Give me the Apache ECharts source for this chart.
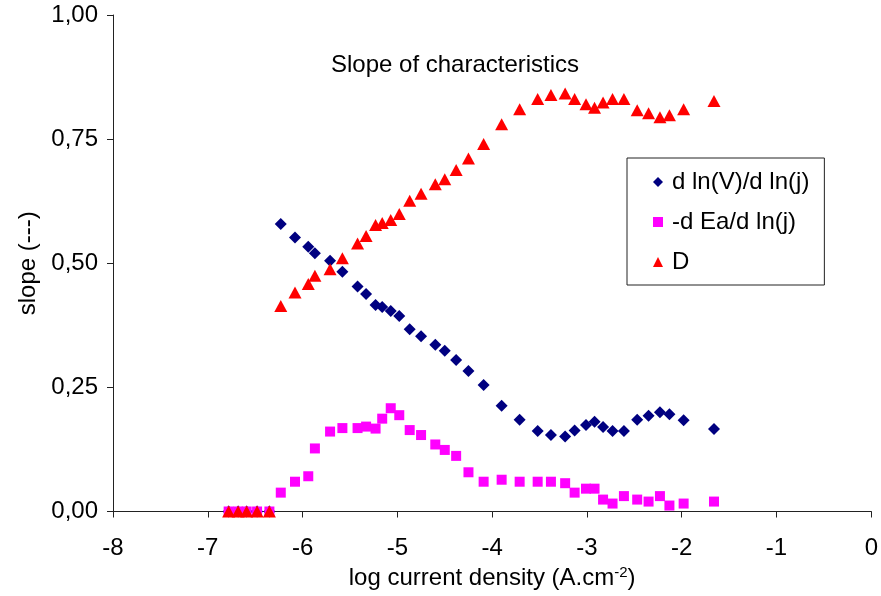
<!DOCTYPE html>
<html>
<head>
<meta charset="utf-8">
<script src="https://cdn.jsdelivr.net/npm/echarts@6/dist/echarts.min.js"></script>
<style>html,body{margin:0;padding:0;background:#fff;}#c{width:881px;height:596px;}</style>
</head>
<body>
<div id="c"></div>
<script>
const xVals = [-6.78, -6.68, -6.59, -6.48, -6.35, -6.23, -6.08, -5.94, -5.87, -5.71, -5.58, -5.42, -5.33, -5.23, -5.16, -5.07, -4.98, -4.87, -4.75, -4.60, -4.50, -4.38, -4.25, -4.09, -3.90, -3.71, -3.52, -3.38, -3.23, -3.13, -3.01, -2.92, -2.83, -2.73, -2.61, -2.47, -2.35, -2.23, -2.13, -1.98, -1.66];
const dlnV = [0, 0, 0, 0, 0, 0.579, 0.552, 0.533, 0.520, 0.505, 0.483, 0.453, 0.438, 0.416, 0.412, 0.404, 0.394, 0.367, 0.353, 0.336, 0.324, 0.305, 0.283, 0.255, 0.213, 0.185, 0.162, 0.154, 0.151, 0.163, 0.174, 0.181, 0.170, 0.162, 0.162, 0.185, 0.193, 0.200, 0.196, 0.184, 0.166];
const dEa = [0, 0, 0, 0, 0, 0.038, 0.060, 0.071, 0.127, 0.161, 0.168, 0.168, 0.171, 0.167, 0.187, 0.208, 0.194, 0.164, 0.154, 0.135, 0.124, 0.112, 0.079, 0.060, 0.064, 0.060, 0.060, 0.060, 0.057, 0.038, 0.046, 0.046, 0.024, 0.016, 0.031, 0.024, 0.020, 0.031, 0.012, 0.016, 0.020];
const dD = [0, 0, 0, 0, 0, 0.414, 0.441, 0.458, 0.475, 0.488, 0.510, 0.540, 0.555, 0.577, 0.581, 0.587, 0.599, 0.626, 0.640, 0.659, 0.669, 0.688, 0.711, 0.740, 0.780, 0.810, 0.831, 0.839, 0.842, 0.831, 0.820, 0.813, 0.824, 0.831, 0.831, 0.808, 0.802, 0.794, 0.798, 0.810, 0.827];
const seriesNames = ['d ln(V)/d ln(j)', '-d Ea/d ln(j)', 'D'];

const FONT = "'Liberation Sans', Arial, sans-serif";
const FS = 24;
const pair = ys => xVals.map((x, i) => [x, ys[i]]);

const chart = echarts.init(document.getElementById('c'), null, {renderer: 'canvas'});
chart.setOption({
  animation: false,
  backgroundColor: '#fff',
  title: {
    text: 'Slope of characteristics',
    left: 331, top: 53, padding: 0,
    textStyle: {fontFamily: FONT, fontSize: FS, fontWeight: 'normal', color: '#000'}
  },
  legend: {
    orient: 'vertical',
    left: 627, top: 158,
    padding: [12, 15, 11, 26],
    itemGap: 16,
    itemWidth: 10, itemHeight: 10,
    borderColor: '#222', borderWidth: 1,
    backgroundColor: '#fff',
    textStyle: {fontFamily: FONT, fontSize: FS, color: '#000', padding: [0, 0, 0, 4]},
    data: seriesNames
  },
  grid: {left: 113, right: 7, top: 15, bottom: 84.5, containLabel: false},
  xAxis: {
    type: 'value', min: -8, max: 0, interval: 1,
    splitLine: {show: false},
    axisLine: {onZero: false, lineStyle: {color: '#222', width: 1}},
    axisTick: {length: 6, lineStyle: {color: '#222'}},
    axisLabel: {margin: 25, fontFamily: FONT, fontSize: FS, color: '#000'},
    name: 'log current density (A.cm{sup|-2})',
    nameLocation: 'middle', nameGap: 54,
    nameTextStyle: {fontFamily: FONT, fontSize: FS, color: '#000',
      rich: {sup: {fontFamily: FONT, fontSize: 15, color: '#000', verticalAlign: 'top', padding: [0, 0, 10, 0]}}}
  },
  yAxis: {
    type: 'value', min: 0, max: 1, interval: 0.25,
    splitLine: {show: false},
    axisLine: {show: true, onZero: false, lineStyle: {color: '#222', width: 1}},
    axisTick: {show: true, length: 6, lineStyle: {color: '#222'}},
    axisLabel: {margin: 15, fontFamily: FONT, fontSize: FS, color: '#000',
      formatter: v => v.toFixed(2).replace('.', ',')},
    name: 'slope (---)',
    nameLocation: 'middle', nameGap: 73, nameRotate: 90,
    nameTextStyle: {fontFamily: FONT, fontSize: FS, color: '#000'}
  },
  series: [
    {name: seriesNames[0], type: 'scatter', symbol: 'diamond', symbolSize: 12,
     itemStyle: {color: '#000080', opacity: 1}, data: pair(dlnV)},
    {name: seriesNames[1], type: 'scatter', symbol: 'rect', symbolSize: 10,
     itemStyle: {color: '#FF00FF', opacity: 1}, data: pair(dEa)},
    {name: seriesNames[2], type: 'scatter', symbol: 'triangle', symbolSize: [13, 12],
     itemStyle: {color: '#FF0000', opacity: 1}, data: pair(dD)}
  ]
});
</script>
</body>
</html>
